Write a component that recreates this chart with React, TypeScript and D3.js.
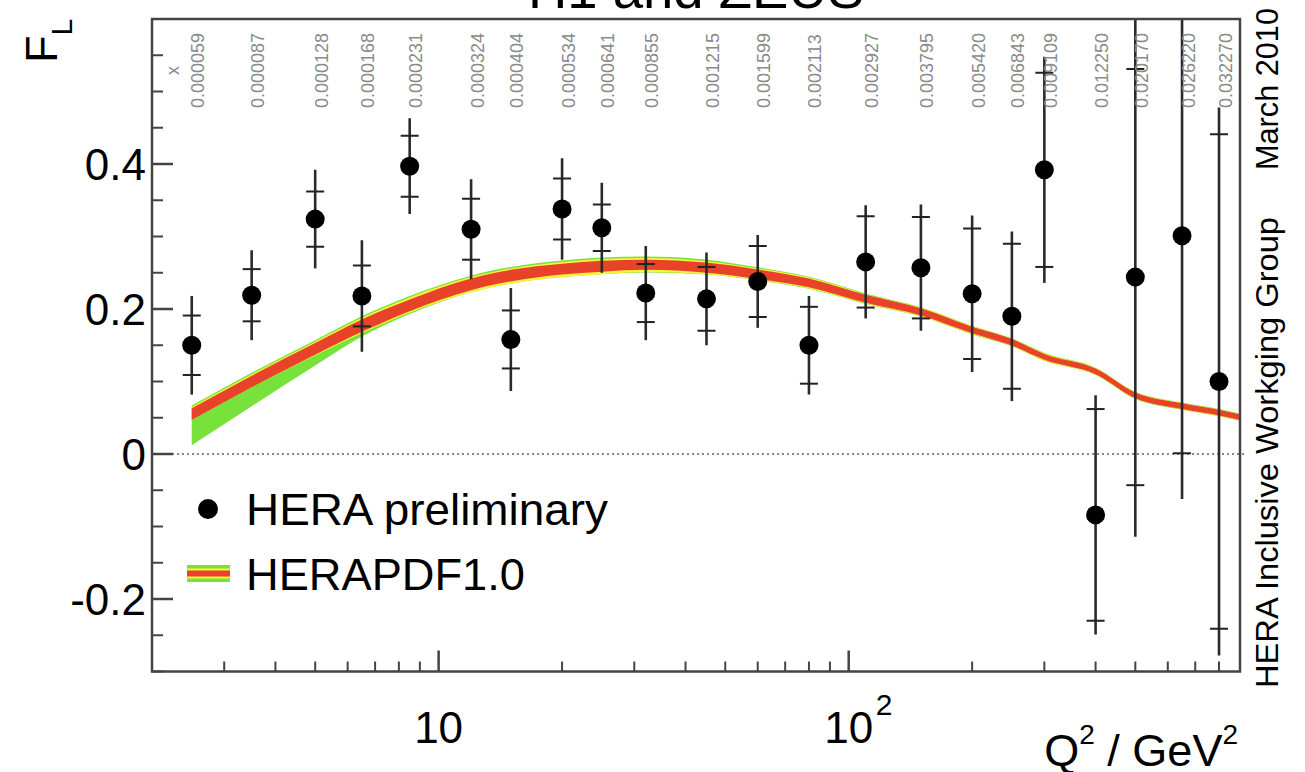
import React, { useEffect } from "react";
import * as d3 from "d3";

const W = 1305;
const H = 772;
const FONT = "'Liberation Sans', Arial, Helvetica, sans-serif";

// ---- data: HERA preliminary F_L measurements ----
const q2 = [2.5, 3.5, 5, 6.5, 8.5, 12, 15, 20, 25, 32, 45, 60, 80, 110, 150, 200, 250, 300, 400, 500, 650, 800];
const fl = [0.150, 0.219, 0.324, 0.218, 0.397, 0.310, 0.158, 0.338, 0.312, 0.222, 0.214, 0.238, 0.150, 0.265, 0.257, 0.221, 0.190, 0.392, -0.084, 0.244, 0.301, 0.100];
const statErr = [0.041, 0.036, 0.038, 0.042, 0.042, 0.042, 0.040, 0.042, 0.032, 0.040, 0.044, 0.049, 0.053, 0.063, 0.070, 0.090, 0.100, 0.134, 0.146, 0.287, 0.300, 0.341];
const totErr = [0.068, 0.062, 0.068, 0.077, 0.066, 0.069, 0.071, 0.070, 0.062, 0.065, 0.064, 0.064, 0.068, 0.078, 0.087, 0.108, 0.117, 0.156, 0.165, 0.358, 0.363, 0.378];
const xBjorken = [
  "0.000059", "0.000087", "0.000128", "0.000168", "0.000231", "0.000324", "0.000404", "0.000534",
  "0.000641", "0.000855", "0.001215", "0.001599", "0.002113", "0.002927", "0.003795", "0.005420",
  "0.006843", "0.009109", "0.012250", "0.020170", "0.026220", "0.032270",
];

// ---- data: HERAPDF1.0 prediction band ----
const fitQ2 = [2.5, 3.5, 5, 6.5, 8.5, 12, 15, 20, 25, 32, 45, 60, 80, 110, 150, 200, 250, 300, 400, 500, 650, 800, 900];
const fitCentral = [0.055, 0.100, 0.145, 0.177, 0.205, 0.234, 0.246, 0.255, 0.259, 0.261, 0.257, 0.248, 0.236, 0.214, 0.196, 0.171, 0.154, 0.134, 0.114, 0.081, 0.066, 0.057, 0.051];
const fitExp = [0.008, 0.008, 0.008, 0.0085, 0.008, 0.008, 0.008, 0.0075, 0.0075, 0.007, 0.007, 0.0065, 0.006, 0.0055, 0.005, 0.0045, 0.0045, 0.004, 0.004, 0.004, 0.004, 0.004, 0.004];
const fitModelUp = [0.010, 0.010, 0.010, 0.011, 0.011, 0.010, 0.010, 0.010, 0.010, 0.0095, 0.009, 0.008, 0.0075, 0.0065, 0.006, 0.0055, 0.005, 0.005, 0.0045, 0.0045, 0.0045, 0.0045, 0.0045];
const fitModelDown = [0.008, 0.008, 0.009, 0.010, 0.010, 0.011, 0.011, 0.011, 0.011, 0.010, 0.009, 0.008, 0.0075, 0.0065, 0.006, 0.0055, 0.005, 0.005, 0.0045, 0.0045, 0.0045, 0.0045, 0.0045];
const fitParUp = [0.012, 0.012, 0.012, 0.013, 0.013, 0.012, 0.012, 0.012, 0.012, 0.0115, 0.011, 0.0095, 0.0085, 0.0075, 0.0065, 0.006, 0.0055, 0.0055, 0.005, 0.005, 0.005, 0.005, 0.005];
const fitParDown = [0.043, 0.034, 0.023, 0.015, 0.012, 0.011, 0.011, 0.011, 0.011, 0.0105, 0.0095, 0.0085, 0.008, 0.007, 0.0065, 0.006, 0.0055, 0.0055, 0.005, 0.005, 0.005, 0.005, 0.005];

const yMajorTicks = [-0.2, 0, 0.2, 0.4];
const yTickLabels = ["-0.2", "0", "0.2", "0.4"];
const xMajorTicks = [10, 100];

const GREEN = "#77e23c";
const YELLOW = "#fbf53a";
const RED = "#e8432a";

export default function App() {
  useEffect(() => {
    document.body.style.margin = "0";
  }, []);

  const left = 152, right = 1240, top = 19, bottom = 671.5;
  const x = d3.scaleLog().domain([2, 900]).range([left, right]);
  const y = d3.scaleLinear().domain([-0.3, 0.6]).range([bottom, top]);

  const idx = fitQ2.map((_, i) => i);
  const band = (lo: (i: number) => number, hi: (i: number) => number) =>
    d3
      .area<number>()
      .curve(d3.curveMonotoneX)
      .x((i) => x(fitQ2[i]))
      .y0((i) => y(lo(i)))
      .y1((i) => y(hi(i)))(idx) || "";

  const greenPath = band((i) => fitCentral[i] - fitParDown[i], (i) => fitCentral[i] + fitParUp[i]);
  const yellowPath = band((i) => fitCentral[i] - fitModelDown[i], (i) => fitCentral[i] + fitModelUp[i]);
  const redPath = band((i) => fitCentral[i] - fitExp[i], (i) => fitCentral[i] + fitExp[i]);

  const yMinor = d3.range(-0.3, 0.6001, 0.05).filter(
    (v) => !yMajorTicks.some((m) => Math.abs(m - v) < 1e-6)
  );
  const xMinor: number[] = [];
  [1, 10, 100].forEach((dec) => {
    for (let k = 2; k <= 9; k++) {
      const v = k * dec;
      if (v > 2 && v < 900) xMinor.push(v);
    }
  });

  return (
    <div style={{ position: "absolute", left: 0, top: 0 }}>
      <svg width={W} height={H} style={{ display: "block", background: "#fff" }} fontFamily={FONT}>
        <defs>
          <clipPath id="plotClip">
            <rect x={left} y={top} width={right - left} height={bottom - top} />
          </clipPath>
        </defs>

        {/* title (cut at top) */}
        <text x={(left + right) / 2} y={8} fontSize={54} textAnchor="middle" textLength={336} lengthAdjust="spacingAndGlyphs" fill="#000">
          H1 and ZEUS
        </text>

        {/* zero dotted line */}
        <line x1={left} x2={right + 6} y1={y(0)} y2={y(0)} stroke="#888" strokeWidth={2} strokeDasharray="2,3" />

        {/* prediction band */}
        <g clipPath="url(#plotClip)">
          <path d={greenPath} fill={GREEN} />
          <path d={yellowPath} fill={YELLOW} />
          <path d={redPath} fill={RED} />
        </g>

        {/* data points */}
        <g clipPath="url(#plotClip)">
          {q2.map((q, i) => {
            const cx = x(q);
            return (
              <g key={i}>
                <line x1={cx} x2={cx} y1={y(fl[i] + totErr[i])} y2={y(fl[i] - totErr[i])} stroke="#2a2a2a" strokeWidth={2.6} />
                <line x1={cx - 9} x2={cx + 9} y1={y(fl[i] + statErr[i])} y2={y(fl[i] + statErr[i])} stroke="#222" strokeWidth={2} />
                <line x1={cx - 9} x2={cx + 9} y1={y(fl[i] - statErr[i])} y2={y(fl[i] - statErr[i])} stroke="#222" strokeWidth={2} />
                <circle cx={cx} cy={y(fl[i])} r={9.5} fill="#000" />
              </g>
            );
          })}
        </g>

        {/* x Bjorken labels */}
        <text transform={`translate(179,75) rotate(-90)`} fontSize={18} fill="#8a8a8a">x</text>
        {q2.map((q, i) => (
          <text key={"xb" + i} transform={`translate(${x(q) + 12.5},108) rotate(-90)`} fontSize={18} fill="#8a8a8a">
            {xBjorken[i]}
          </text>
        ))}

        {/* frame */}
        <rect x={left} y={top} width={right - left} height={bottom - top} fill="none" stroke="#444" strokeWidth={2.5} />

        {/* y ticks */}
        {yMajorTicks.map((v, i) => (
          <g key={"ym" + i}>
            <line x1={left} x2={left + 21} y1={y(v)} y2={y(v)} stroke="#444" strokeWidth={2.5} />
            <text x={146} y={y(v)} dy="0.36em" fontSize={44} textAnchor="end" fill="#000">
              {yTickLabels[i]}
            </text>
          </g>
        ))}
        {yMinor.map((v, i) => (
          <line key={"yn" + i} x1={left} x2={left + 11} y1={y(v)} y2={y(v)} stroke="#444" strokeWidth={2} />
        ))}

        {/* x ticks */}
        {xMajorTicks.map((v, i) => (
          <line key={"xm" + i} x1={x(v)} x2={x(v)} y1={bottom} y2={bottom - 21} stroke="#444" strokeWidth={2.5} />
        ))}
        {xMinor.map((v, i) => (
          <line key={"xn" + i} x1={x(v)} x2={x(v)} y1={bottom} y2={bottom - 10} stroke="#444" strokeWidth={2} />
        ))}
        <text x={x(10)} y={743} fontSize={44} textAnchor="middle" fill="#000">10</text>
        <text x={x(100)} y={743} fontSize={44} textAnchor="middle" fill="#000">10</text>
        <text x={x(100) + 27} y={715} fontSize={30} fill="#000">2</text>

        {/* axis titles */}
        <text x={1238} y={766} fontSize={45} textAnchor="end" fill="#000">
          Q<tspan dy={-22} fontSize={28}>2</tspan>
          <tspan dy={22} fontSize={45}> / GeV</tspan>
          <tspan dy={-22} fontSize={28}>2</tspan>
        </text>
        <text transform="translate(57,63) rotate(-90)" fontSize={45} fill="#000">
          F<tspan dy={15} fontSize={30}>L</tspan>
        </text>

        {/* right-side annotation */}
        <text transform="translate(1278,688) rotate(-90)" fontSize={31} fill="#000" textLength={471} lengthAdjust="spacingAndGlyphs">
          HERA Inclusive Workging Group
        </text>
        <text transform="translate(1278,170) rotate(-90)" fontSize={31} fill="#000" textLength={162} lengthAdjust="spacingAndGlyphs">
          March 2010
        </text>

        {/* legend */}
        <circle cx={208} cy={509} r={10} fill="#000" />
        <text x={246} y={525} fontSize={45} fill="#000" textLength={362} lengthAdjust="spacingAndGlyphs">HERA preliminary</text>
        <rect x={187} y={565} width={43} height={17} fill={GREEN} />
        <rect x={187} y={568.5} width={43} height={10} fill={YELLOW} />
        <rect x={187} y={570.5} width={43} height={6} fill={RED} />
        <text x={246} y={590} fontSize={45} fill="#000" textLength={279} lengthAdjust="spacingAndGlyphs">HERAPDF1.0</text>
      </svg>
    </div>
  );
}
